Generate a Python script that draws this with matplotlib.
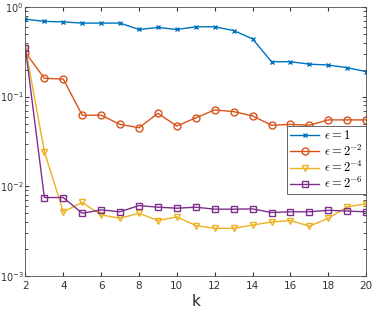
import numpy as np
import matplotlib.pyplot as plt
from matplotlib.ticker import FixedLocator, FixedFormatter

plt.rcParams['mathtext.fontset'] = 'cm'
plt.rcParams['font.family'] = 'DejaVu Sans'

k = np.arange(2, 21)
err_1 = [0.73, 0.69, 0.68, 0.66, 0.66, 0.66, 0.56, 0.59, 0.56, 0.60,
         0.60, 0.545, 0.44, 0.245, 0.245, 0.23, 0.225, 0.21, 0.19]
err_2 = [0.31, 0.16, 0.157, 0.062, 0.062, 0.049, 0.045, 0.065, 0.047, 0.058,
         0.071, 0.068, 0.061, 0.048, 0.049, 0.048, 0.055, 0.055, 0.055]
err_4 = [0.35, 0.0244, 0.0052, 0.0066, 0.0048, 0.0044, 0.0050, 0.00415, 0.00456, 0.00365,
         0.0034, 0.0034, 0.0037, 0.0040, 0.00415, 0.0036, 0.0044, 0.0059, 0.0064]
err_6 = [0.345, 0.0075, 0.0075, 0.0050, 0.00546, 0.0052, 0.0061, 0.00585, 0.0057, 0.00585,
         0.00556, 0.00556, 0.0056, 0.0051, 0.0052, 0.0052, 0.0054, 0.0053, 0.0052]
yticks = [1e-3, 1e-2, 1e-1, 1e0]
ytick_labels = [r'10$^{\mathdefault{-3}}$', r'10$^{\mathdefault{-2}}$',
                r'10$^{\mathdefault{-1}}$', r'10$^{\mathdefault{0}}$']

series = [
    (err_1, r'$\epsilon = 1$', '#0072BD', 'x', 3.5),
    (err_2, r'$\epsilon = 2^{-2}$', '#D95319', 'o', 5),
    (err_4, r'$\epsilon = 2^{-4}$', '#EDB120', 'v', 5),
    (err_6, r'$\epsilon = 2^{-6}$', '#7E2F8E', 's', 4),
]

fig = plt.figure(figsize=(3.74, 3.14), dpi=100)
ax = fig.add_axes([0.068, 0.121, 0.911, 0.857])

for y, lab, c, m, ms in series:
    ax.semilogy(k, y, color=c, marker=m, markersize=ms, markerfacecolor='none',
                markeredgewidth=1.0, linewidth=1.0, label=lab)

ax.set_xlim(2, 20)
ax.set_ylim(1e-3, 1)
ax.set_xticks(np.arange(2, 21, 2))
ax.yaxis.set_major_locator(FixedLocator(yticks))
ax.yaxis.set_major_formatter(FixedFormatter(ytick_labels))
ax.tick_params(which='both', direction='in', top=True, right=True,
               colors='0.2', labelsize=7.5, length=3)
ax.tick_params(axis='y', pad=1, labelsize=7)
ax.tick_params(which='minor', length=2)
for s in ax.spines.values():
    s.set_color('0.3')
    s.set_linewidth(0.6)
ax.set_xlabel('k', fontsize=11, color='0.15', labelpad=2)

leg = ax.legend(loc='center right', bbox_to_anchor=(1.0, 0.43), fontsize=9,
                fancybox=False, edgecolor='0.3', framealpha=1,
                handlelength=2.3, handletextpad=0.4, borderpad=0.25,
                labelspacing=0.1, borderaxespad=0.0)
leg.get_frame().set_linewidth(0.6)

fig.savefig('out.png', dpi=100)
